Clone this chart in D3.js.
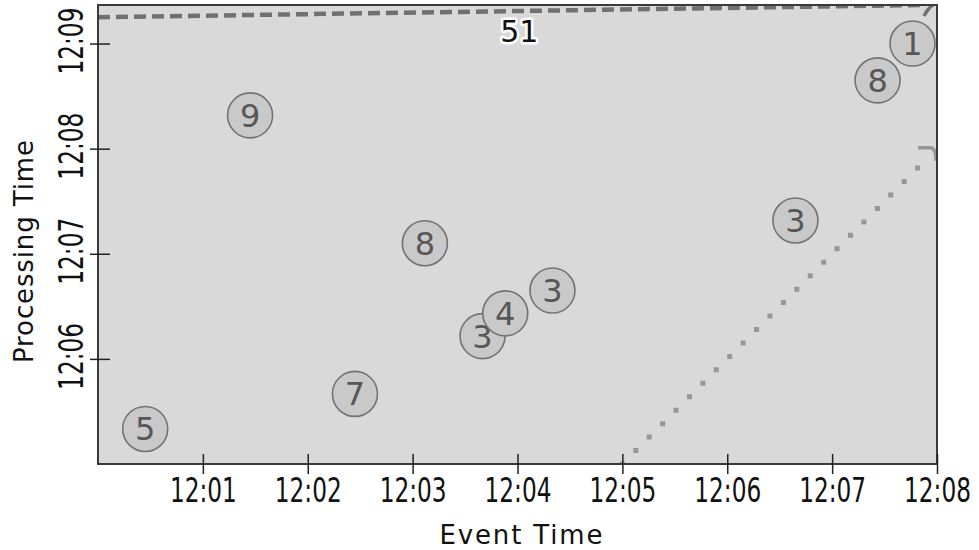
<!DOCTYPE html>
<html>
<head>
<meta charset="utf-8">
<script src="https://cdn.jsdelivr.net/npm/d3@7"></script>
<style>
	body { margin: 0; background: #fff; }
	svg { display: block; }
</style>
</head>
<body>
<div id="chart"></div>
<script>
// data
const eventTimes = ["12:00:27", "12:02:27", "12:01:27", "12:03:07", "12:03:40", "12:03:53", "12:04:20", "12:06:39", "12:07:26", "12:07:46"]
const procTimes = ["12:05:20", "12:05:40", "12:08:19", "12:07:06", "12:06:13", "12:06:26", "12:06:39", "12:07:19", "12:08:39", "12:09:00"]
const scores = [5, 7, 9, 8, 3, 4, 3, 3, 8, 1]

const xTicks = ["12:01", "12:02", "12:03", "12:04", "12:05", "12:06", "12:07", "12:08"]
const yTicks = ["12:06", "12:07", "12:08", "12:09"]

// dashed sum line and dotted ideal line (event time, processing time)
const sumLineEvent = ["12:00:00", "12:07:52"]
const sumLineProc = ["12:09:15", "12:09:22"]
const sumLabelAt = ["12:04:01", "12:09:07"]
const idealEvent = ["12:05:00", "12:07:56"]
const idealProc = ["12:05:00", "12:07:56"]

whenReady(() => {
	const width = 979
	const height = 550
	const margin = ({ top: 5, right: 42, bottom: 86, left: 98 })
	const font = "'DejaVu Sans', Verdana, sans-serif"

	const parse = d3.timeParse("%H:%M:%S")
	const parseM = d3.timeParse("%H:%M")

	const x = d3.scaleTime()
		.domain([parse("12:00:00"), parse("12:08:00")])
		.range([margin.left, width - margin.right])
	const y = d3.scaleTime()
		.domain([parse("12:05:00"), parse("12:09:22")])
		.range([height - margin.bottom, margin.top])

	const data = scores.map((s, i) => ({ score: s, ev: parse(eventTimes[i]), pt: parse(procTimes[i]) }))

	const svg = d3.select("#chart").append("svg")
		.attr("width", width)
		.attr("height", height)
		.attr("viewBox", [0, 0, width, height])

	svg.append("defs").append("clipPath").attr("id", "plot-clip")
		.append("rect")
		.attr("x", margin.left).attr("y", margin.top)
		.attr("width", width - margin.left - margin.right)
		.attr("height", height - margin.top - margin.bottom)

	// plot background
	svg.append("rect")
		.attr("x", margin.left).attr("y", margin.top)
		.attr("width", width - margin.left - margin.right)
		.attr("height", height - margin.top - margin.bottom)
		.attr("fill", "#d9d9d9")

	const plot = svg.append("g").attr("clip-path", "url(#plot-clip)")

	// dotted ideal line
	const line = d3.line().x(d => x(d[0])).y(d => y(d[1]))
	const ideal = idealEvent.map((e, i) => [parse(e), parse(idealProc[i])])
	plot.append("path")
		.attr("d", line(ideal))
		.attr("fill", "none")
		.attr("stroke", "#979797")
		.attr("stroke-width", 5)
		.attr("stroke-linecap", "square")
		.attr("stroke-dasharray", "0,19")
	// small hook at the end of the ideal line
	const ie = ideal[ideal.length - 1]
	const ix = x(ie[0]), iy = y(ie[1])
	const hook = d3.path()
	hook.moveTo(ix - 12, iy - 8)
	hook.lineTo(ix + 1, iy - 8)
	hook.quadraticCurveTo(ix + 6, iy - 7, ix + 6, iy + 5)
	plot.append("path")
		.attr("d", hook.toString())
		.attr("fill", "none")
		.attr("stroke", "#979797")
		.attr("stroke-width", 3.5)

	// dashed sum line
	const sumLine = sumLineEvent.map((e, i) => [parse(e), parse(sumLineProc[i])])
	plot.append("path")
		.attr("d", line(sumLine))
		.attr("fill", "none")
		.attr("stroke", "#707070")
		.attr("stroke-width", 4.5)
		.attr("stroke-dasharray", "12,6")
	const se = sumLine[sumLine.length - 1]
	const sx = x(se[0]), sy = y(se[1])
	const curl = d3.path()
	curl.moveTo(sx + 1, sy + 11)
	curl.quadraticCurveTo(sx + 5, sy + 3, sx + 11, sy - 1)
	plot.append("path")
		.attr("d", curl.toString())
		.attr("fill", "none")
		.attr("stroke", "#707070")
		.attr("stroke-width", 3.5)

	// bubbles
	const node = plot.selectAll(".node")
		.data(data)
		.join("g")
		.attr("class", "node")
		.attr("transform", d => `translate(${x(d.ev)},${y(d.pt)})`)
	node.append("circle")
		.attr("r", 22.5)
		.attr("fill", "#c9c9c9")
		.attr("stroke", "#737373")
		.attr("stroke-width", 1.6)
	node.append("text")
		.attr("text-anchor", "middle")
		.attr("dy", "0.36em")
		.attr("font-family", font)
		.attr("font-size", 32)
		.attr("fill", "#575757")
		.text(d => d.score)

	// sum label
	svg.append("text")
		.attr("x", x(parse(sumLabelAt[0])))
		.attr("y", y(parse(sumLabelAt[1])))
		.attr("dy", "0.36em")
		.attr("text-anchor", "middle")
		.attr("font-family", font)
		.attr("font-size", 30)
		.attr("fill", "#111")
		.attr("stroke", "#fff")
		.attr("stroke-width", 5)
		.attr("stroke-linejoin", "round")
		.attr("paint-order", "stroke")
		.text(d3.sum(scores))

	// frame
	svg.append("rect")
		.attr("x", margin.left).attr("y", margin.top)
		.attr("width", width - margin.left - margin.right)
		.attr("height", height - margin.top - margin.bottom)
		.attr("fill", "none")
		.attr("stroke", "#3a3a3a")
		.attr("stroke-width", 2)

	// axes
	const xAxis = g => g.attr("transform", `translate(0,${height - margin.bottom})`)
		.call(d3.axisBottom(x).tickValues(xTicks.map(parseM)).tickFormat(d3.timeFormat("%H:%M")).tickSize(10))
		.call(g => g.select(".domain").remove())
		.call(g => g.selectAll(".tick line").attr("y1", -10).attr("stroke", "#222").attr("stroke-width", 1.5))
		.call(g => g.selectAll(".tick text")
			.attr("y", 38).attr("dy", 0)
			.attr("font-family", font).attr("font-size", 33).attr("fill", "#111")
			.attr("textLength", 67).attr("lengthAdjust", "spacingAndGlyphs"))

	const yAxis = g => g.attr("transform", `translate(${margin.left},0)`)
		.call(d3.axisLeft(y).tickValues(yTicks.map(parseM)).tickFormat(d3.timeFormat("%H:%M")).tickSize(8))
		.call(g => g.select(".domain").remove())
		.call(g => g.selectAll(".tick line").attr("x1", 12).attr("stroke", "#222").attr("stroke-width", 1.5))
		.call(g => g.selectAll(".tick text")
			.attr("x", 0).attr("dy", 0)
			.attr("transform", "translate(-15,-3) rotate(-90)")
			.attr("text-anchor", "middle")
			.attr("font-family", font).attr("font-size", 33).attr("fill", "#111")
			.attr("textLength", 67).attr("lengthAdjust", "spacingAndGlyphs"))

	svg.append("g").call(xAxis)
	svg.append("g").call(yAxis)

	// axis titles
	svg.append("text")
		.attr("x", 521).attr("y", 544)
		.attr("text-anchor", "middle")
		.attr("font-family", font).attr("font-size", 26).attr("fill", "#111")
		.attr("textLength", 163).attr("lengthAdjust", "spacing")
		.text("Event Time")
	svg.append("text")
		.attr("transform", `translate(33,${(margin.top + height - margin.bottom) / 2 + 17}) rotate(-90)`)
		.attr("text-anchor", "middle")
		.attr("font-family", font).attr("font-size", 26).attr("fill", "#111")
		.attr("textLength", 223).attr("lengthAdjust", "spacing")
		.text("Processing Time")
})

function whenReady(action) {
	if (document.readyState === "loading") {
		document.addEventListener("DOMContentLoaded", action);
	} else {
		action();
	}
}
</script>
</body>
</html>
